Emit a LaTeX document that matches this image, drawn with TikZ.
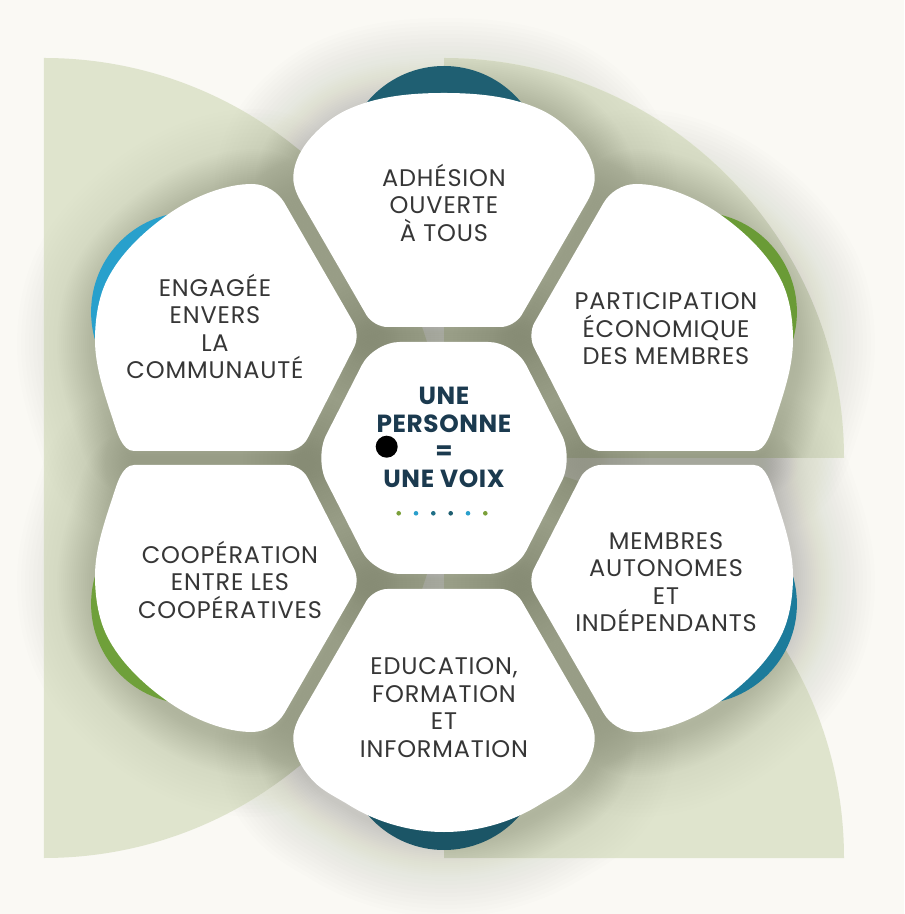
\documentclass[tikz,border=0pt]{standalone}
\usepackage{fontspec}
\setmainfont{Poppins}
\definecolor{bgcol}{HTML}{FAF9F4}
\definecolor{lgreen}{HTML}{DFE4CD}
\definecolor{shcol}{HTML}{686D56}
\definecolor{txtcol}{HTML}{363636}
\definecolor{navy}{HTML}{1B3A4F}
\definecolor{ctop}{HTML}{1F5F72}
\definecolor{ctr}{HTML}{6A9B36}
\definecolor{cbr}{HTML}{1C7B9B}
\definecolor{cbot}{HTML}{1B5566}
\definecolor{cbl}{HTML}{6FA03A}
\definecolor{ctl}{HTML}{28A0CC}
\definecolor{dgreen}{HTML}{7BA03A}
\definecolor{dblue}{HTML}{2A9FCC}
\definecolor{dteal}{HTML}{1F6F87}
\definecolor{ddark}{HTML}{1F5E70}

\newcommand\PTop{(0,131) [rounded corners=7pt] -- (70.7,131) -- (100,181.8) [sharp corners] -- (142.3,255)
 .. controls (146.3,261.9) and (150.7,271) .. (150.7,280)
 .. controls (150.7,296) and (141.7,311.4) .. (130.7,323)
 .. controls (121.1,333.2) and (110,342.1) .. (97.3,348)
 .. controls (67.4,361.9) and (33,365) .. (0,365)
 .. controls (-33,365) and (-67.4,361.9) .. (-97.3,348)
 .. controls (-110,342.1) and (-121.1,333.2) .. (-130.7,323)
 .. controls (-141.7,311.4) and (-150.7,296) .. (-150.7,280)
 .. controls (-150.7,271) and (-146.3,261.9) .. (-142.3,255)
 -- (-100,181.8) [rounded corners=7pt] -- (-70.7,131) -- cycle}

\newcommand\PBot{(0,131) [rounded corners=7pt] -- (70.7,131) -- (100,181.8) [sharp corners] -- (142.3,255)
 .. controls (146.3,261.9) and (150.7,271) .. (150.7,280)
 .. controls (150.7,296) and (141.7,311.4) .. (130.7,323)
 .. controls (121.1,333.2) and (106.9,339.6) .. (95,347)
 .. controls (67,364.5) and (33,374) .. (0,374)
 .. controls (-33,374) and (-67,364.5) .. (-95,347)
 .. controls (-106.9,339.6) and (-121.1,333.2) .. (-130.7,323)
 .. controls (-141.7,311.4) and (-150.7,296) .. (-150.7,280)
 .. controls (-150.7,271) and (-146.3,261.9) .. (-142.3,255)
 -- (-100,181.8) [rounded corners=7pt] -- (-70.7,131) -- cycle}

\newcommand\PTL{(-230,7) [rounded corners=7pt] -- (-142.9,7) -- (-83.5,123.3) -- (-117.2,181.7) [sharp corners] -- (-159.5,255)
 .. controls (-165.5,265.4) and (-178,274) .. (-192,274)
 .. controls (-219,274) and (-250.1,261.4) .. (-274,245)
 .. controls (-298.7,228) and (-323.6,204.8) .. (-337,178)
 .. controls (-345.9,160.1) and (-349,138) .. (-349,118)
 .. controls (-349,91) and (-339.4,63.7) .. (-331,38)
 .. controls (-327.3,26.6) and (-322,7) .. (-310,7)
 -- (-280,7) [rounded corners=7pt] -- cycle}

\newcommand\PHex{(0,116) -- (70.4,116) -- (129.6,0) -- (70.4,-116) -- (-70.4,-116) -- (-129.6,0) -- (-70.4,116) -- cycle}

\newcommand\allshapes[1]{%
  \path[#1] \PTop;
  \begin{scope}[yscale=-1]\path[#1] \PBot;\end{scope}
  \path[#1] \PTL;
  \begin{scope}[xscale=-1]\path[#1] \PTL;\end{scope}
  \begin{scope}[yscale=-1]\path[#1] \PTL;\end{scope}
  \begin{scope}[xscale=-1,yscale=-1]\path[#1] \PTL;\end{scope}
  \path[#1,rounded corners=13pt] \PHex;}

\newcommand\petaltext[5]{%
  \foreach \t [count=\i] in {#5} {\node[#4] (#1-\i) at (#2,{#3-(\i-1)*27.5}) {\t};}}

\tikzset{
  shadowlayer/.style={draw=shcol, line width=#1, opacity=0.013, line join=round},
  softlayer/.style={draw=shcol, line width=#1, opacity=0.008, line join=round},
  lbl/.style={font=\fontsize{12}{14}\selectfont\addfontfeatures{LetterSpace=3.5}, text=txtcol, inner sep=0pt, text height=8.2pt, text depth=0pt, anchor=center},
  ctrlbl/.style={font=\bfseries\fontsize{12.4}{14}\selectfont\addfontfeatures{LetterSpace=2.5}, text=navy, inner sep=0pt, text height=8.6pt, text depth=0pt, anchor=center}
}

\begin{document}
\begin{tikzpicture}[x=0.5pt,y=0.5pt]
\useasboundingbox (-444,-456) rectangle (460,458);
\fill[bgcol] (-444,-456) rectangle (460,458);
% background sage shapes
\fill[lgreen] (-400,-400) arc[start angle=-90,end angle=90,radius=400] -- cycle;
\fill[lgreen] (0,0) -- (400,0) arc[start angle=0,end angle=90,radius=400] -- cycle;
\fill[lgreen] (0,-400) -- (400,-400) arc[start angle=0,end angle=90,radius=400] -- cycle;
% soft shadows
\begin{scope}[xshift=1pt,yshift=-2.5pt]
\foreach \w in {2,4,...,40} {\allshapes{shadowlayer=\w pt}}
\foreach \w in {44,48,...,80} {\allshapes{softlayer=\w pt}}
\end{scope}
% coloured crescents
\fill[ctop] (0,292) circle[radius=100];
\fill[ctr] (252.9,146) circle[radius=100];
\fill[cbr] (252.9,-146) circle[radius=100];
\fill[cbot] (0,-292) circle[radius=100];
\fill[cbl] (-252.9,-146) circle[radius=100];
\fill[ctl] (-252.9,146) circle[radius=100];
% white petals and centre
\allshapes{fill=white}
% texts
\petaltext{top}{0}{279.7}{lbl}{ADHÉSION, OUVERTE, À TOUS}
\petaltext{tl}{-229}{169.7}{lbl}{ENGAGÉE, ENVERS, LA, COMMUNAUTÉ}
\petaltext{tr}{222}{156.3}{lbl}{PARTICIPATION, ÉCONOMIQUE, DES MEMBRES}
\petaltext{bl}{-214}{-97}{lbl}{COOPÉRATION, ENTRE LES, COOPÉRATIVES}
\petaltext{br}{222}{-83}{lbl}{MEMBRES, AUTONOMES, ET, INDÉPENDANTS}
\petaltext{bot}{0}{-208.7}{lbl}{{EDUCATION,}, FORMATION, ET, INFORMATION}
\petaltext{ctr}{0}{62}{ctrlbl}{UNE, PERSONNE, =, UNE VOIX}
% black dot
\fill[black] (-57.3,11.3) circle[radius=11];
% row of dots
\fill[dgreen] (-45.3,-55.3) circle[radius=2.3];
\fill[dblue] (-28,-55.3) circle[radius=2.3];
\fill[dteal] (-10.7,-55.3) circle[radius=2.3];
\fill[ddark] (6.7,-55.3) circle[radius=2.3];
\fill[dblue] (24,-55.3) circle[radius=2.3];
\fill[dgreen] (41.3,-55.3) circle[radius=2.3];
\end{tikzpicture}
\end{document}
